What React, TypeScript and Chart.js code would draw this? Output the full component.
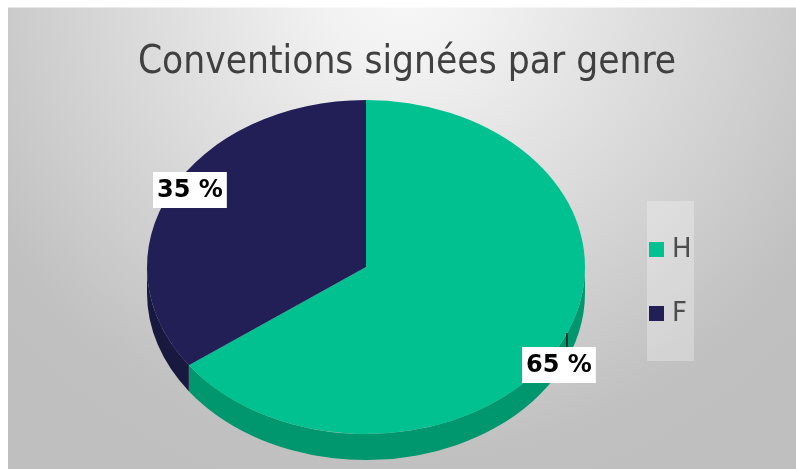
import React, { useEffect, useRef } from "react";
import { Chart, registerables } from "chart.js";
Chart.register(...registerables);

const TITLE = "Conventions signées par genre";
const CATEGORIES = ["H", "F"];
const VALUES = [65, 35];
const VALUE_LABELS = ["65 %", "35 %"];
const TOP_COLORS = ["#00c18f", "#221f57"];
const SIDE_COLORS = ["#00966e", "#19183f"];

const W = 788;
const H = 462;
// layout of the 3D ellipse
const CY = 260;
const RY = 167;
const DEPTH = 26;
// label anchors relative to the ellipse radii
const LABEL_ANCHORS = [
  { fx: 0.881, fy: 0.587, leader: true },
  { fx: -0.804, fy: -0.461, leader: false },
];

const pie3d = {
  id: "pie3d",
  beforeDraw(chart: any) {
    const ctx = chart.ctx;
    ctx.save();
    const g = ctx.createRadialGradient(395, -30, 0, 395, -30, 540);
    g.addColorStop(0, "#f8f8f8");
    g.addColorStop(0.15, "#f2f2f2");
    g.addColorStop(0.88, "#c1c1c1");
    g.addColorStop(1, "#bfbfbf");
    ctx.fillStyle = g;
    ctx.fillRect(0, 0, chart.width, chart.height);
    ctx.fillStyle = "rgba(255,255,255,0.5)";
    ctx.fillRect(0, 0, chart.width, 1);
    ctx.restore();
  },
  beforeDatasetsDraw(chart: any) {
    const ctx = chart.ctx;
    const arcs = chart.getDatasetMeta(0).data;
    const p0 = arcs[0].getProps(["x", "y", "outerRadius"], true);
    const k = RY / p0.outerRadius;
    ctx.save();
    ctx.translate(0, CY);
    ctx.scale(1, k);
    ctx.translate(0, -p0.y);
    const d = DEPTH / k;
    arcs.forEach((arc: any, i: number) => {
      const p = arc.getProps(["x", "y", "startAngle", "endAngle", "outerRadius"], true);
      const ranges = [
        [-2 * Math.PI, -Math.PI],
        [0, Math.PI],
        [2 * Math.PI, 3 * Math.PI],
      ];
      ranges.forEach(([lo, hi]) => {
        const a1 = Math.max(p.startAngle, lo);
        const a2 = Math.min(p.endAngle, hi);
        if (a1 < a2) {
          ctx.beginPath();
          ctx.arc(p.x, p.y, p.outerRadius, a1, a2);
          ctx.arc(p.x, p.y + d, p.outerRadius, a2, a1, true);
          ctx.closePath();
          ctx.fillStyle = SIDE_COLORS[i];
          ctx.fill();
        }
      });
    });
  },
  afterDatasetsDraw(chart: any) {
    chart.ctx.restore();
  },
  afterDraw(chart: any) {
    const ctx = chart.ctx;
    const arcs = chart.getDatasetMeta(0).data;
    const p0 = arcs[0].getProps(["x", "y", "outerRadius"], true);
    const rx = p0.outerRadius;
    ctx.save();
    // title
    ctx.font = "38.5px 'DejaVu Sans Condensed', 'DejaVu Sans'";
    ctx.fillStyle = "#404040";
    ctx.textAlign = "center";
    ctx.textBaseline = "alphabetic";
    ctx.fillText(TITLE, 399, 66);

    // value labels
    ctx.font = "bold 24px 'DejaVu Sans'";
    ctx.textBaseline = "middle";
    VALUE_LABELS.forEach((txt, i) => {
      const a = LABEL_ANCHORS[i];
      const lx = p0.x + a.fx * rx;
      const ly = CY + a.fy * RY;
      const tw = ctx.measureText(txt).width;
      const bw = tw + 8;
      const bh = 36;
      if (a.leader) {
        ctx.strokeStyle = "#1a1a1a";
        ctx.lineWidth = 1.5;
        ctx.beginPath();
        ctx.moveTo(lx + 8, ly - bh / 2 - 14);
        ctx.lineTo(lx + 8, ly - bh / 2);
        ctx.stroke();
      }
      ctx.fillStyle = "#ffffff";
      ctx.fillRect(lx - bw / 2, ly - bh / 2, bw, bh);
      ctx.fillStyle = "#000000";
      ctx.textAlign = "center";
      ctx.fillText(txt, lx, ly + 1);
    });

    // legend
    ctx.fillStyle = "rgba(255,255,255,0.28)";
    ctx.fillRect(639, 194, 47, 160);
    ctx.font = "26px 'DejaVu Sans'";
    ctx.textAlign = "left";
    ctx.textBaseline = "middle";
    CATEGORIES.forEach((c, i) => {
      const y = 235 + i * 64;
      ctx.fillStyle = TOP_COLORS[i];
      ctx.fillRect(641, y, 15, 15);
      ctx.fillStyle = "#4d4d4d";
      ctx.fillText(c, 664, y + 8);
    });
    ctx.restore();
  },
};

export default function App() {
  const ref = useRef<HTMLCanvasElement>(null);
  useEffect(() => {
    if (!ref.current) return;
    const chart = new Chart(ref.current, {
      type: "pie",
      data: {
        labels: CATEGORIES,
        datasets: [
          {
            data: VALUES,
            backgroundColor: TOP_COLORS,
            borderWidth: 0,
            clip: false,
          } as any,
        ],
      },
      options: {
        responsive: false,
        animation: false,
        devicePixelRatio: 1,
        events: [],
        layout: { padding: { left: 139, right: 211, top: 12, bottom: 12 } },
        plugins: {
          legend: { display: false },
          title: { display: false },
          tooltip: { enabled: false },
        },
      },
      plugins: [pie3d],
    });
    return () => chart.destroy();
  }, []);
  return (
    <div style={{ position: "fixed", left: 8, top: 7, width: W, height: H }}>
      <canvas ref={ref} width={W} height={H} style={{ display: "block" }} />
    </div>
  );
}
